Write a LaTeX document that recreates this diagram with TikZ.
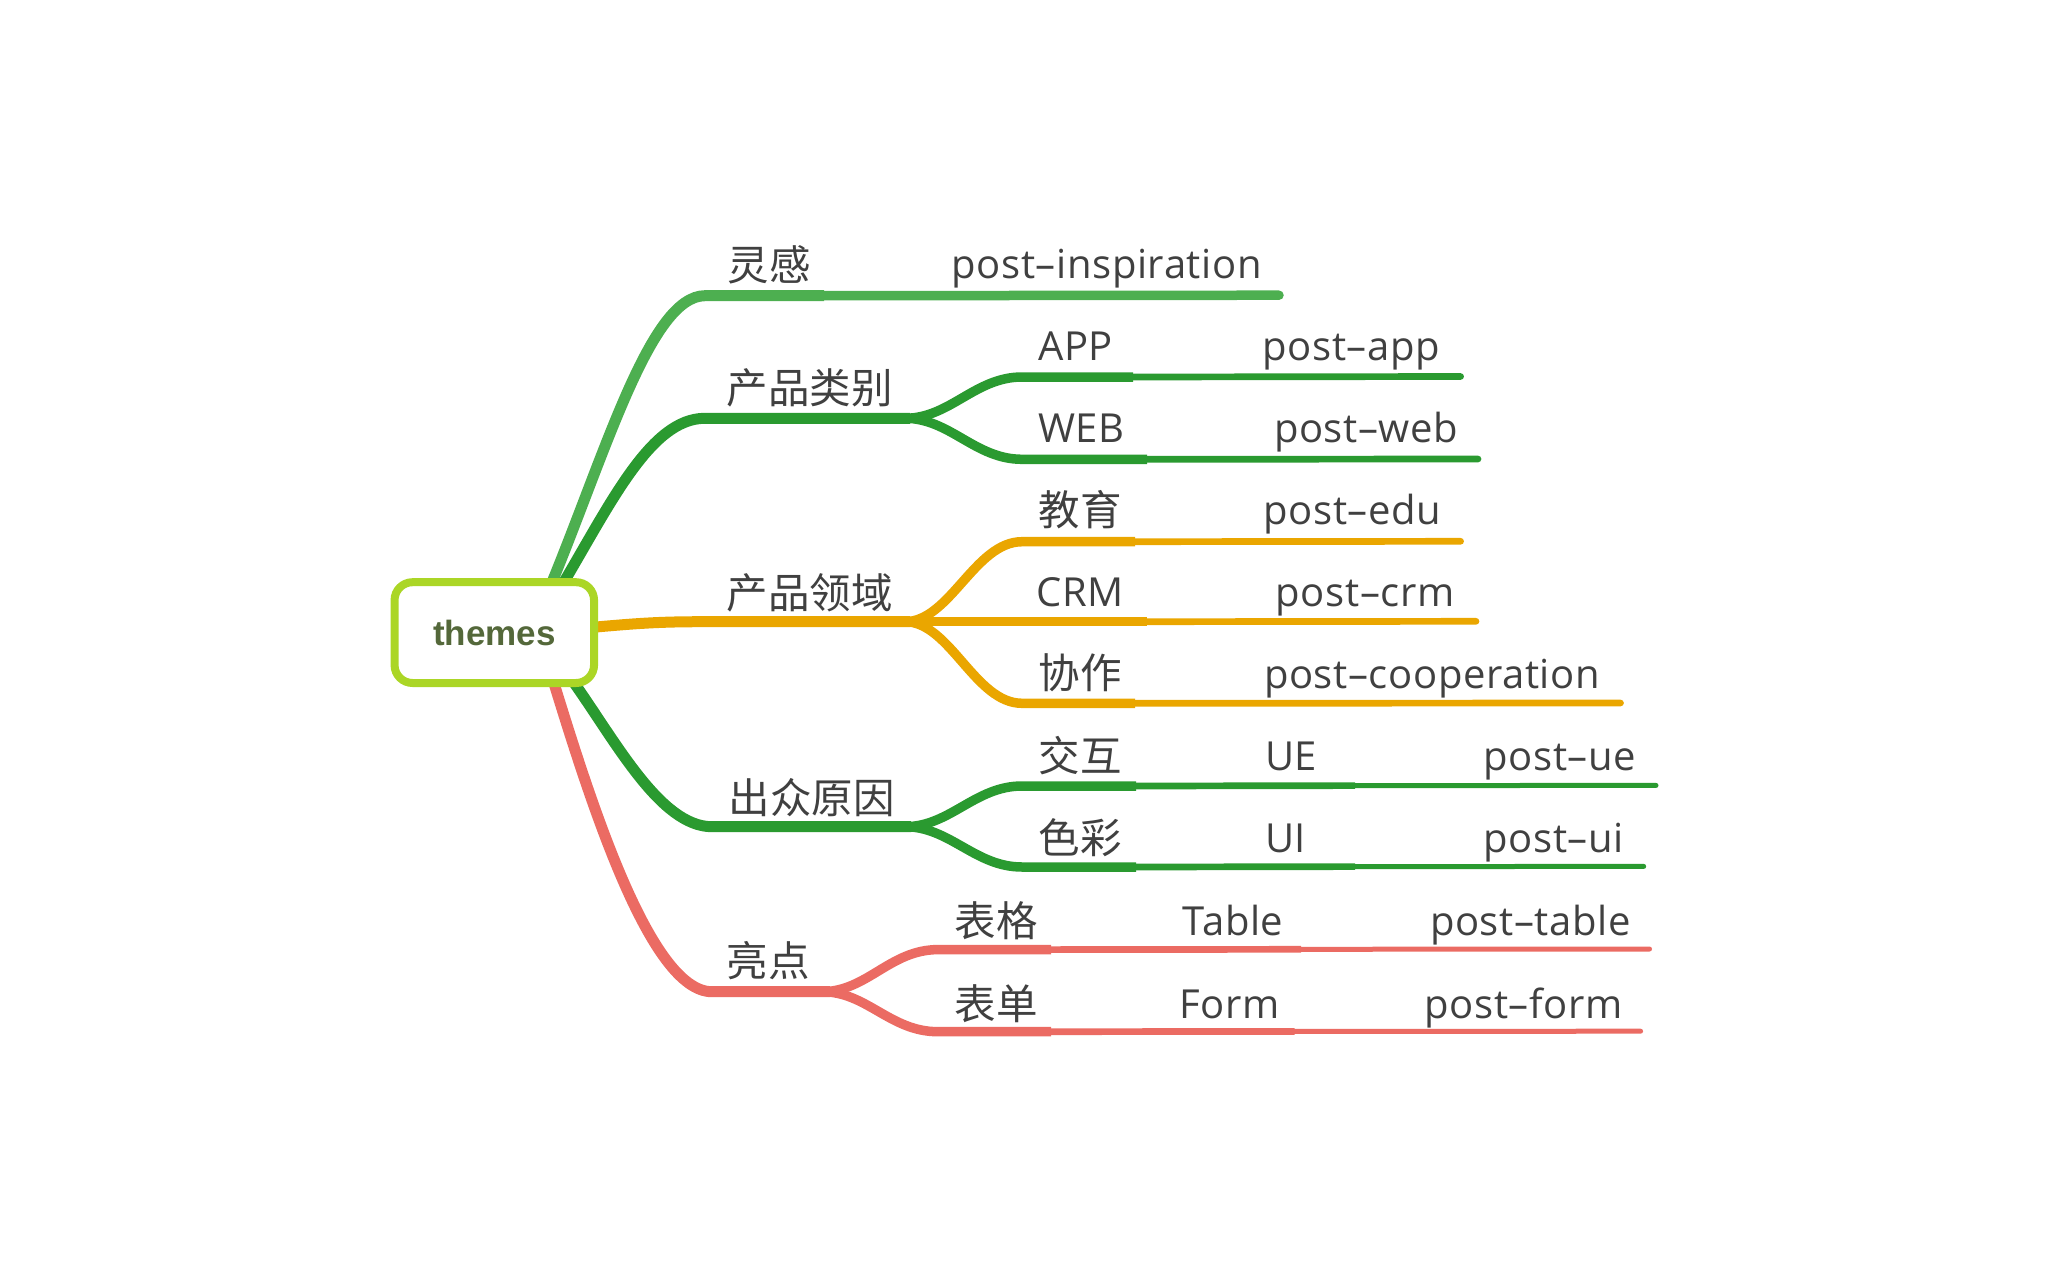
\documentclass[tikz,border=0pt]{standalone}
\usepackage{fontspec}
\setmainfont{Open Sans}[LetterSpace=1.5]
\newfontfamily\cjk{Noto Sans CJK SC}
\newfontfamily\rootfont{Liberation Sans}
\definecolor{cLight}{RGB}{77,175,80}
\definecolor{cDark}{RGB}{42,154,48}
\definecolor{cOrange}{RGB}{234,166,0}
\definecolor{cRed}{RGB}{235,107,99}
\definecolor{cBox}{RGB}{171,214,38}
\definecolor{cRootTxt}{RGB}{84,104,58}
\definecolor{txt}{RGB}{64,64,64}
\tikzset{
  lone/.style={line width=11pt},
  ltwo/.style={line width=9.5pt},
  lthree/.style={line width=6.7pt, line cap=round},
  lfour/.style={line width=5pt, line cap=round},
  lat/.style={anchor=base west, inner sep=0pt, text=txt, font=\fontsize{40}{48}\selectfont},
  han/.style={anchor=west, inner sep=0pt, text=txt, font=\cjk\fontsize{41.5}{50}\selectfont},
  rootbox/.style={draw=cBox, line width=8pt, rounded corners=18pt, fill=white,
    minimum width=199.5pt, minimum height=100.8pt, inner sep=0pt,
    text=cRootTxt, font=\rootfont\bfseries\fontsize{35}{42}\selectfont},
}
\begin{document}
\begin{tikzpicture}[x=1pt,y=-1pt]
\useasboundingbox (0,0) rectangle (2048,1266);
% ---------- coordinates ----------
\coordinate (r-lg) at (548,592);
\coordinate (lg-a) at (705,295.7);
\coordinate (lg-b) at (824,295.7);
\coordinate (lg-c) at (1279,295.2);

\coordinate (r-cp) at (558,592);
\coordinate (cp-a) at (705,418.3);
\coordinate (cp-b) at (910,418.3);
\coordinate (cp-f) at (905,418.3);
\coordinate (app-a) at (1022,377);
\coordinate (app-b) at (1133,377);
\coordinate (app-c) at (1460.6,376.5);
\coordinate (web-a) at (1022,459.3);
\coordinate (web-b) at (1147,459.3);
\coordinate (web-c) at (1478,459);

\coordinate (r-ly) at (585,628);
\coordinate (ly-a) at (705,621.7);
\coordinate (ly-b) at (910,621.7);
\coordinate (ly-f) at (905,621.7);
\coordinate (edu-a) at (1022,541.7);
\coordinate (edu-b) at (1135,541.7);
\coordinate (edu-c) at (1460.6,541.3);
\coordinate (crm-b) at (1147,621.7);
\coordinate (crm-c) at (1476,621.3);
\coordinate (xz-a) at (1022,703.3);
\coordinate (xz-b) at (1135,703.3);
\coordinate (xz-c) at (1620.5,703);

\coordinate (r-cz) at (572,680);
\coordinate (cz-a) at (712,826.7);
\coordinate (cz-b) at (911,826.7);
\coordinate (cz-f) at (905,826.7);
\coordinate (jh-a) at (1022,786);
\coordinate (jh-b) at (1136,786);
\coordinate (jh-c) at (1355,785.6);
\coordinate (jh-d) at (1656,785.4);
\coordinate (sc-a) at (1022,867);
\coordinate (sc-b) at (1136,867);
\coordinate (sc-c) at (1355,866.6);
\coordinate (sc-d) at (1643.7,866.4);

\coordinate (r-ld) at (553,680);
\coordinate (ld-a) at (712,991.7);
\coordinate (ld-b) at (830,991.7);
\coordinate (ld-f) at (822,991.7);
\coordinate (bg-a) at (938,949.6);
\coordinate (bg-b) at (1051,949.6);
\coordinate (bg-c) at (1301,949.3);
\coordinate (bg-d) at (1649.5,949);
\coordinate (bd-a) at (938,1031.7);
\coordinate (bd-b) at (1051,1031.7);
\coordinate (bd-c) at (1294.6,1031.4);
\coordinate (bd-d) at (1640.6,1031.2);

% ---------- branches ----------
% 灵感
\draw[lone,cLight] (r-lg) .. controls (605,455) and (650,295.7) .. (lg-a) -- (lg-b);
\draw[ltwo,cLight,line cap=round] (lg-b) -- (lg-c);
% 产品类别
\draw[lone,cDark] (r-cp) .. controls (610,505) and (650,418.3) .. (cp-a) -- (cp-b);
\draw[ltwo,cDark] (cp-f) .. controls (950,418.3) and (975,377) .. (app-a) -- (app-b);
\draw[lthree,cDark] (app-b) -- (app-c);
\draw[ltwo,cDark] (cp-f) .. controls (950,418.3) and (975,459.3) .. (web-a) -- (web-b);
\draw[lthree,cDark] (web-b) -- (web-c);
% 产品领域
\draw[lone,cOrange] (r-ly) .. controls (640,623) and (660,621.7) .. (ly-a) -- (ly-b);
\draw[ltwo,cOrange] (ly-f) .. controls (950,621.7) and (975,541.7) .. (edu-a) -- (edu-b);
\draw[lthree,cOrange] (edu-b) -- (edu-c);
\draw[ltwo,cOrange] (ly-f) -- (crm-b);
\draw[lthree,cOrange] (crm-b) -- (crm-c);
\draw[ltwo,cOrange] (ly-f) .. controls (950,621.7) and (975,703.3) .. (xz-a) -- (xz-b);
\draw[lthree,cOrange] (xz-b) -- (xz-c);
% 出众原因
\draw[lone,cDark] (r-cz) .. controls (615,740) and (660,826.7) .. (cz-a) -- (cz-b);
\draw[ltwo,cDark] (cz-f) .. controls (950,826.7) and (975,786) .. (jh-a) -- (jh-b);
\draw[lthree,cDark,line cap=butt] (jh-b) -- (jh-c);
\draw[lfour,cDark] (jh-c) -- (jh-d);
\draw[ltwo,cDark] (cz-f) .. controls (950,826.7) and (975,867) .. (sc-a) -- (sc-b);
\draw[lthree,cDark,line cap=butt] (sc-b) -- (sc-c);
\draw[lfour,cDark] (sc-c) -- (sc-d);
% 亮点
\draw[lone,cRed] (r-ld) .. controls (590,800) and (650,991.7) .. (ld-a) -- (ld-b);
\draw[ltwo,cRed] (ld-f) .. controls (867,991.7) and (890,949.6) .. (bg-a) -- (bg-b);
\draw[lthree,cRed,line cap=butt] (bg-b) -- (bg-c);
\draw[lfour,cRed] (bg-c) -- (bg-d);
\draw[ltwo,cRed] (ld-f) .. controls (867,991.7) and (890,1031.7) .. (bd-a) -- (bd-b);
\draw[lthree,cRed,line cap=butt] (bd-b) -- (bd-c);
\draw[lfour,cRed] (bd-c) -- (bd-d);

% ---------- root ----------
\node[rootbox] (root) at (494.3,632.6) {themes};

% ---------- labels ----------
\node[han] (t-lg) at (727.5,264.5) {灵感};
\node[lat] (t-lgp) at (951.5,278.3) {post–inspiration};

\node[han] (t-cp) at (726.5,387.5) {产品类别};
\node[lat] (t-app) at (1038,360) {APP};
\node[lat] (t-appp) at (1262.3,360) {post–app};
\node[lat] (t-web) at (1038,442.7) {WEB};
\node[lat] (t-webp) at (1273.8,442.7) {post–web};

\node[han] (t-ly) at (726.5,592.5) {产品领域};
\node[han] (t-edu) at (1038.5,510) {教育};
\node[lat] (t-edup) at (1263.4,524) {post–edu};
\node[lat] (t-crm) at (1036.5,606.7) {CRM};
\node[lat] (t-crmp) at (1275.7,606.7) {post–crm};
\node[han] (t-xz) at (1038.5,673) {协作};
\node[lat] (t-xzp) at (1263.8,688.3) {post–cooperation};

\node[han] (t-cz) at (728.5,797.5) {出众原因};
\node[han] (t-jh) at (1038.5,755.5) {交互};
\node[lat] (t-ue) at (1265,770) {UE};
\node[lat] (t-uep) at (1483.4,770) {post–ue};
\node[han] (t-sc) at (1038.5,837.5) {色彩};
\node[lat] (t-ui) at (1265,852.7) {UI};
\node[lat] (t-uip) at (1483.4,852.7) {post–ui};

\node[han] (t-ld) at (726.5,960.5) {亮点};
\node[han] (t-bg) at (954.5,920.5) {表格};
\node[lat] (t-tab) at (1182.5,935) {Table};
\node[lat] (t-tabp) at (1429.8,935) {post–table};
\node[han] (t-bd) at (954.5,1003.5) {表单};
\node[lat] (t-form) at (1179.5,1018) {Form};
\node[lat] (t-formp) at (1424.5,1018) {post–form};
\end{tikzpicture}
\end{document}
